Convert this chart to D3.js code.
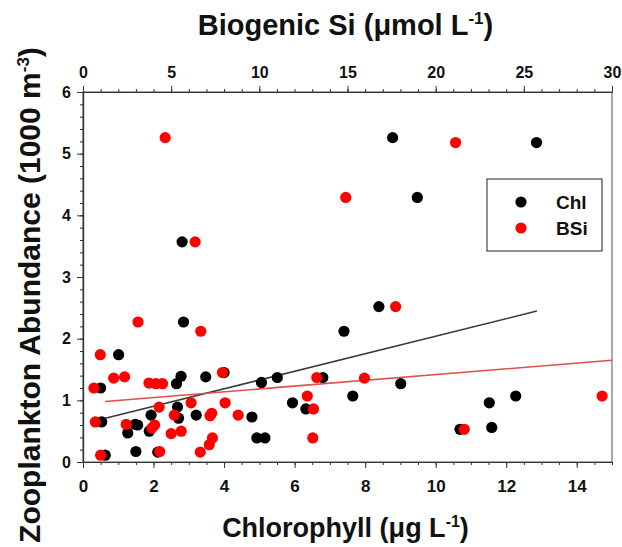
<!DOCTYPE html>
<html>
<head>
<meta charset="utf-8">
<script src="https://cdn.jsdelivr.net/npm/d3@7/dist/d3.min.js"></script>
<style>
  body { margin: 0; background: #fff; }
  text { font-family: "Liberation Sans", Arial, sans-serif; font-weight: bold; fill: #111; }
</style>
</head>
<body>
<script>
/* globals d3 */

// Chlorophyll (ug/L) vs zooplankton abundance -- black dots
var chlX = [8.78, 12.86, 9.48, 2.81, 8.39, 2.85, 7.40, 1.01, 4.00, 2.78, 3.48, 5.51, 6.80,
            5.06, 2.65, 9.01, 0.50, 7.65, 12.27, 5.94, 11.52, 2.68, 6.32, 3.21, 1.93, 4.79,
            2.71, 0.53, 1.48, 1.55, 11.59, 10.69, 1.88, 1.27, 4.93, 5.16, 1.50, 2.12, 0.63];
var chlY = [5.26, 5.18, 4.29, 3.57, 2.52, 2.27, 2.12, 1.74, 1.45, 1.39, 1.38, 1.37, 1.37,
            1.29, 1.27, 1.27, 1.20, 1.07, 1.07, 0.96, 0.96, 0.89, 0.86, 0.76, 0.76, 0.73,
            0.71, 0.65, 0.61, 0.60, 0.56, 0.53, 0.50, 0.47, 0.39, 0.39, 0.17, 0.16, 0.11];

// Biogenic Si (umol/L) vs zooplankton abundance -- red dots
var bsiX = [4.66, 21.13, 14.90, 6.36, 17.73, 3.12, 6.68, 0.98, 7.91, 2.36, 1.74, 13.26, 15.96,
            3.74, 4.14, 4.51, 0.62, 12.72, 29.44, 6.13, 8.06, 4.32, 13.07, 8.80, 5.18, 7.20,
            7.30, 0.70, 2.45, 4.06, 3.91, 21.62, 5.57, 5.00, 7.34, 13.03, 7.16, 6.65, 4.35, 1.00];
var bsiY = [5.26, 5.18, 4.29, 3.57, 2.52, 2.27, 2.12, 1.74, 1.45, 1.38, 1.36, 1.37, 1.36,
            1.28, 1.27, 1.27, 1.20, 1.07, 1.07, 0.96, 0.96, 0.89, 0.86, 0.76, 0.76, 0.75,
            0.79, 0.65, 0.61, 0.60, 0.55, 0.53, 0.50, 0.46, 0.39, 0.39, 0.28, 0.16, 0.17, 0.11];

// linear fits: y = a + b*x, drawn between from..to
var chlFit = {a: 0.62, b: 0.142, from: 0.49, to: 12.87};
var bsiFit = {a: 0.951, b: 0.0233, from: 1.26, to: 30};

var chlTicks = [0, 2, 4, 6, 8, 10, 12, 14];
var bsiTicks = [0, 5, 10, 15, 20, 25, 30];
var yTicks = [0, 1, 2, 3, 4, 5, 6];

var margin = {top: 92, right: 10, bottom: 85, left: 83};
var width = 622 - margin.left - margin.right;   // 529
var height = 547 - margin.top - margin.bottom;  // 370

var x = d3.scaleLinear().domain([0, 15]).range([0, width]);
var x2 = d3.scaleLinear().domain([0, 30]).range([0, width]);
var y = d3.scaleLinear().domain([0, 6]).range([height, 0]);

var svg = d3.select("body").append("svg")
  .attr("width", 622)
  .attr("height", 547);

var g = svg.append("g")
  .attr("transform", "translate(" + margin.left + "," + margin.top + ")");

// frame
g.append("rect")
  .attr("width", width)
  .attr("height", height)
  .attr("fill", "none")
  .attr("stroke", "#555")
  .attr("stroke-width", 1);

function styleAxis(sel, size) {
  sel.select(".domain").attr("stroke", "#333").attr("stroke-width", 1.2);
  sel.selectAll(".tick line").attr("stroke", "#333").attr("stroke-width", 1);
  sel.selectAll(".tick text")
    .attr("font-size", size)
    .attr("font-family", "'Liberation Sans', Arial, sans-serif")
    .attr("font-weight", "bold")
    .attr("fill", "#111");
}

var fmt = d3.format("d");

// bottom axis (chlorophyll)
g.append("g")
  .attr("transform", "translate(0," + height + ")")
  .call(d3.axisBottom(x).tickValues(d3.range(0, 15.01, 0.5)).tickSize(3).tickSizeOuter(0).tickFormat(""))
  .call(styleAxis, 17);
g.append("g")
  .attr("transform", "translate(0," + height + ")")
  .call(d3.axisBottom(x).tickValues(chlTicks).tickFormat(fmt).tickSize(6).tickSizeOuter(0).tickPadding(12))
  .call(styleAxis, 17);

// top axis (biogenic Si)
g.append("g")
  .call(d3.axisTop(x2).tickValues(d3.range(0, 30.01, 1)).tickSize(3).tickSizeOuter(0).tickFormat(""))
  .call(styleAxis, 16);
g.append("g")
  .call(d3.axisTop(x2).tickValues(bsiTicks).tickFormat(fmt).tickSize(6).tickSizeOuter(0).tickPadding(8))
  .call(styleAxis, 16);

// left axis
g.append("g")
  .call(d3.axisLeft(y).tickValues(d3.range(0, 6.01, 0.2)).tickSize(3).tickSizeOuter(0).tickFormat(""))
  .call(styleAxis, 16);
g.append("g")
  .call(d3.axisLeft(y).tickValues(yTicks).tickFormat(fmt).tickSize(6).tickSizeOuter(0).tickPadding(6))
  .call(styleAxis, 16);

// regression lines
var fitLine = d3.line().x(function(d) { return d[0]; }).y(function(d) { return d[1]; });

g.append("path")
  .datum([[x(chlFit.from), y(chlFit.a + chlFit.b * chlFit.from)],
          [x(chlFit.to), y(chlFit.a + chlFit.b * chlFit.to)]])
  .attr("d", fitLine)
  .attr("fill", "none")
  .attr("stroke", "#3a3a3a")
  .attr("stroke-width", 1.6);

g.append("path")
  .datum([[x2(bsiFit.from), y(bsiFit.a + bsiFit.b * bsiFit.from)],
          [x2(bsiFit.to), y(bsiFit.a + bsiFit.b * bsiFit.to)]])
  .attr("d", fitLine)
  .attr("fill", "none")
  .attr("stroke", "#e0504a")
  .attr("stroke-width", 1.6);

// dots
var r = 5.6;
g.append("g").selectAll("circle")
  .data(d3.range(chlX.length))
  .enter().append("circle")
  .attr("cx", function(i) { return x(chlX[i]); })
  .attr("cy", function(i) { return y(chlY[i]); })
  .attr("r", r)
  .attr("fill", "#000");

g.append("g").selectAll("circle")
  .data(d3.range(bsiX.length))
  .enter().append("circle")
  .attr("cx", function(i) { return x2(bsiX[i]); })
  .attr("cy", function(i) { return y(bsiY[i]); })
  .attr("r", r)
  .attr("fill", "#f00");

// legend
var legend = g.append("g")
  .attr("transform", "translate(" + (width - 125) + "," + 87 + ")");
legend.append("rect")
  .attr("width", 115)
  .attr("height", 72)
  .attr("fill", "#fff")
  .attr("stroke", "#444")
  .attr("stroke-width", 1.2);
var legendItems = [["Chl", "#000"], ["BSi", "#f00"]];
legendItems.forEach(function(d, i) {
  legend.append("circle")
    .attr("cx", 34)
    .attr("cy", 23 + i * 26)
    .attr("r", r)
    .attr("fill", d[1]);
  legend.append("text")
    .attr("x", 69)
    .attr("y", 23 + i * 26)
    .attr("dy", "0.36em")
    .attr("font-size", 19)
    .text(d[0]);
});

// axis titles
var topTitle = svg.append("text")
  .attr("x", margin.left + width / 2 - 2)
  .attr("y", 35)
  .attr("text-anchor", "middle")
  .attr("font-size", 29);
topTitle.append("tspan").text("Biogenic Si (\u03bcmol L");
topTitle.append("tspan").attr("dy", -11).attr("font-size", 17).text("-1");
topTitle.append("tspan").attr("dy", 11).text(")");

var bottomTitle = svg.append("text")
  .attr("x", margin.left + width / 2 - 2)
  .attr("y", 537)
  .attr("text-anchor", "middle")
  .attr("font-size", 27);
bottomTitle.append("tspan").text("Chlorophyll (\u03bcg L");
bottomTitle.append("tspan").attr("dy", -10).attr("font-size", 16).text("-1");
bottomTitle.append("tspan").attr("dy", 10).text(")");

var leftTitle = svg.append("text")
  .attr("transform", "translate(40,295) rotate(-90)")
  .attr("text-anchor", "middle")
  .attr("font-size", 30);
leftTitle.append("tspan").text("Zooplankton Abundance (1000 m");
leftTitle.append("tspan").attr("dy", -11).attr("font-size", 17).text("-3");
leftTitle.append("tspan").attr("dy", 11).text(")");
</script>
</body>
</html>
